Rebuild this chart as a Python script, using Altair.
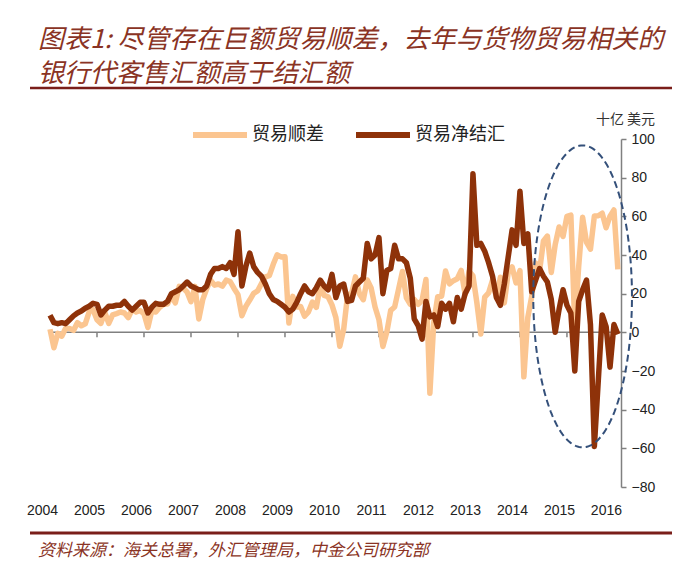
import altair as alt
import numpy as np
import pandas as pd

# ---- data: monthly, Jan 2004 - Feb 2016 (billion USD) ----
first_year = 2004
years = list(range(2004, 2017))

trade_surplus = [
    1.6, -8.0, -0.5, -2.0, 2.1, 2.0, 1.0, 5.0, 3.4, 4.4, 10.6, 11.7,
    6.5, 4.6, 10.3, 4.6, 9.0, 9.7, 10.5, 10.0, 7.6, 12.0, 10.5, 11.3,
    9.6, 2.5, 11.2, 10.5, 13.0, 14.5, 14.6, 18.8, 15.3, 23.8, 22.9, 20.9,
    15.9, 23.8, 6.9, 16.9, 22.5, 27.0, 24.4, 25.0, 23.9, 27.0, 26.3, 22.7,
    19.5, 8.6, 13.4, 16.7, 20.2, 21.4, 25.3, 28.7, 29.3, 35.2, 40.1, 39.0,
    39.1, 4.8, 18.6, 13.1, 13.4, 8.3, 10.6, 15.7, 12.9, 24.0, 19.1, 18.4,
    14.2, 7.6, -7.2, 1.7, 19.5, 20.0, 28.7, 20.0, 16.9, 27.1, 22.9, 13.1,
    6.5, -7.3, 0.1, 11.4, 13.1, 22.3, 31.5, 17.8, 14.5, 17.0, 14.5, 16.5,
    27.3, -31.5, 5.4, 18.4, 18.7, 31.7, 25.1, 26.7, 27.7, 32.0, 19.6, 31.6,
    29.2, 15.3, -0.9, 18.2, 20.4, 27.1, 17.8, 28.5, 15.2, 31.1, 33.8, 25.6,
    31.9, -23.0, 7.7, 18.5, 35.9, 31.6, 47.3, 49.8, 31.0, 45.4, 54.5, 49.6,
    60.0, 60.6, 3.1, 34.1, 59.5, 46.5, 43.0, 60.2, 60.3, 61.6, 54.1, 60.1,
    63.3, 32.6,
]

net_settlement = [
    8.8, 5.0, 4.5, 5.0, 4.5, 6.5, 8.5, 10.0, 11.0, 12.5, 13.5, 15.0,
    14.5, 9.0, 11.5, 13.5, 13.5, 14.0, 14.0, 16.0, 13.5, 11.5, 13.5, 15.5,
    15.5, 10.0, 13.0, 15.0, 14.5, 14.5, 16.0, 20.0, 21.0, 22.0, 24.0, 26.0,
    24.0, 23.0, 22.0, 22.0, 24.0, 30.0, 33.0, 33.0, 34.0, 33.0, 36.0, 30.0,
    52.0, 24.0, 34.0, 41.0, 34.0, 31.0, 29.0, 25.0, 20.0, 17.0, 16.0, 14.5,
    13.0, 10.5, 12.0, 15.5, 20.0, 24.0, 21.0, 20.0, 23.0, 27.0, 24.0, 22.0,
    30.0, 18.0, 24.0, 25.0, 16.0, 16.5, 24.0, 26.0, 28.0, 46.0, 38.0, 40.0,
    49.0, 20.0, 32.0, 33.0, 45.0, 38.0, 38.0, 36.0, 28.0, 7.0, 3.5, -3.5,
    16.0, 8.0, 9.0, 3.0, 15.0, 12.0, 15.0, 5.5, 18.0, 12.0, 20.0, 24.0,
    82.0, 45.0, 46.0, 42.0, 36.0, 29.0, 18.0, 14.0, 25.0, 39.0, 53.0, 45.0,
    73.0, 46.0, 51.0, 21.0, 27.0, 33.0, 29.0, 26.0, 17.0, 0.0, 12.0, 22.0,
    14.0, 10.0, -20.0, 16.0, 22.0, 27.0, 4.0, -59.0, -25.0, 9.0, 3.0, -18.0,
    4.0, -1.0,
]

series_names = ["贸易顺差", "贸易净结汇"]
series_colors = ["#FBC590", "#8E3209"]

title_lines = ["图表1: 尽管存在巨额贸易顺差，去年与货物贸易相关的", "银行代客售汇额高于结汇额"]
source_text = "资料来源：海关总署，外汇管理局，中金公司研究部"
unit_text = "十亿 美元"

# highlighted region (month index / value units)
ellipse_center = (136.0, 18.6)
ellipse_radius = (12.6, 78.1)

# ---- frames ----
months = list(range(len(trade_surplus)))
df_surplus = pd.DataFrame({"m": months, "value": trade_surplus, "series": series_names[0]})
df_net = pd.DataFrame({"m": months, "value": net_settlement, "series": series_names[1]})
year_ticks = [(y - first_year) * 12 for y in years]
df_ticks = pd.DataFrame({"m": year_ticks, "top": 0.0, "bottom": -2.6})

t = np.linspace(0, 2 * np.pi, 181)
df_ellipse = pd.DataFrame({
    "i": np.arange(len(t)),
    "ex": ellipse_center[0] + ellipse_radius[0] * np.cos(t),
    "ey": ellipse_center[1] + ellipse_radius[1] * np.sin(t),
})

# ---- scales & axes ----
W, H = 571, 348
x_scale = alt.Scale(domain=[0, 145.8], nice=False, zero=False)
y_scale = alt.Scale(domain=[-80, 100], nice=False, zero=False)
color_scale = alt.Scale(domain=series_names, range=series_colors)

AX_GRAY = "#808080"
NUM_FONT = "Liberation Sans"
CJK_FONT = "Noto Sans CJK SC"
TEXT_RED = "#8A3324"

x_axis = alt.Axis(
    values=year_ticks,
    labelExpr=f"'' + ({first_year} + datum.value / 12)",
    domain=False, ticks=False, tickSize=0, grid=False,
    labelPadding=16, labelOffset=-8, labelFlush=False, labelOverlap=False,
    labelFont=NUM_FONT, labelFontSize=14, labelColor="#222222",
    title=None,
)
y_axis = alt.Axis(
    orient="right", values=list(range(-80, 101, 20)), grid=False,
    domainColor=AX_GRAY, domainWidth=1.5, tickColor=AX_GRAY, tickWidth=1.5, tickSize=5,
    labelPadding=5, labelFont=NUM_FONT, labelFontSize=14, labelColor="#222222",
    labelFlush=False, labelOverlap=False,
    title=unit_text, titleAngle=0, titleX=4, titleY=-20, titleAlign="center",
    titleBaseline="middle", titleFont=CJK_FONT, titleFontSize=14,
    titleFontWeight="normal", titleColor="#333333",
)
legend = alt.Legend(
    orient="none", legendX=140, legendY=-34, direction="horizontal", title=None,
    symbolType="stroke", symbolStrokeWidth=6, symbolSize=2916, padding=0,
    labelFont=CJK_FONT, labelFontSize=18, labelColor="#222222", labelOffset=2,
    columnPadding=20, labelLimit=300,
)

X = alt.X("m:Q", scale=x_scale, axis=x_axis)

zero_line = alt.Chart(pd.DataFrame({"v": [0]})).mark_rule(
    color=AX_GRAY, strokeWidth=1.5
).encode(y=alt.Y("v:Q", scale=y_scale, axis=y_axis))

tick_marks = alt.Chart(df_ticks).mark_rule(color=AX_GRAY, strokeWidth=1.5).encode(
    x=X, y=alt.Y("top:Q", scale=y_scale, axis=y_axis), y2="bottom:Q"
)


def series_line(df):
    return alt.Chart(df).mark_line(strokeWidth=5.5, strokeJoin="round").encode(
        x=X,
        y=alt.Y("value:Q", scale=y_scale, axis=y_axis),
        color=alt.Color("series:N", scale=color_scale, legend=legend),
    )


ellipse = alt.Chart(df_ellipse).mark_line(
    color="#34507A", strokeWidth=2, strokeDash=[7, 4]
).encode(
    x=alt.X("ex:Q", scale=x_scale, axis=x_axis),
    y=alt.Y("ey:Q", scale=y_scale, axis=y_axis),
    order="i:Q",
)

# ---- header / footer ----
one = pd.DataFrame({"k": [0]})
title1 = alt.Chart(pd.DataFrame({"t": [title_lines[0]]})).mark_text(
    align="left", baseline="middle", font=CJK_FONT, fontSize=26, fontStyle="italic", color=TEXT_RED
).encode(x=alt.value(-12), y=alt.value(-99), text="t:N")
title2 = alt.Chart(pd.DataFrame({"t": [title_lines[1]]})).mark_text(
    align="left", baseline="middle", font=CJK_FONT, fontSize=26, fontStyle="italic", color=TEXT_RED
).encode(x=alt.value(-12), y=alt.value(-65), text="t:N")
top_rule = alt.Chart(one).mark_rule(color="#7A1E1A", strokeWidth=2.5).encode(
    x=alt.value(-20), x2=alt.value(622), y=alt.value(-51)
)
bottom_rule = alt.Chart(one).mark_rule(color="#7A1E1A", strokeWidth=3).encode(
    x=alt.value(-20), x2=alt.value(622), y=alt.value(394)
)
source = alt.Chart(pd.DataFrame({"t": [source_text]})).mark_text(
    align="left", baseline="middle", font=CJK_FONT, fontSize=17, fontStyle="italic", color=TEXT_RED
).encode(x=alt.value(-12), y=alt.value(412), text="t:N")

chart = alt.layer(
    zero_line, tick_marks, series_line(df_surplus), series_line(df_net), ellipse,
    title1, title2, top_rule, bottom_rule, source,
).properties(
    width=W, height=H,
    padding={"left": 50, "top": 139, "right": 59, "bottom": 79},
    autosize=alt.AutoSizeParams(type="none"),
    background="white",
).configure_view(stroke=None)

chart.save("out.html", embed_options={"renderer": "svg", "actions": False})
